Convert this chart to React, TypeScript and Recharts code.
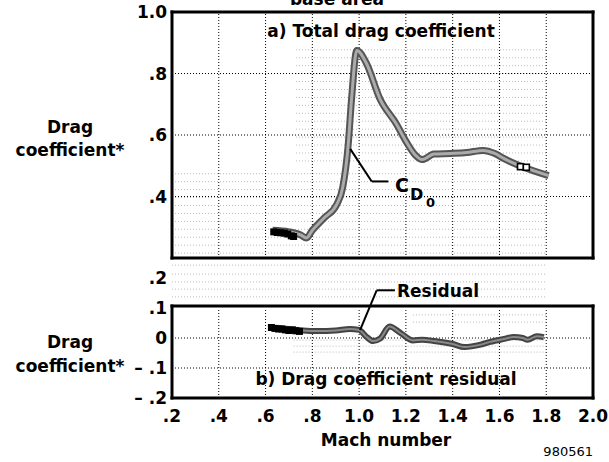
import { ComposedChart, Line, Scatter, XAxis, YAxis, ReferenceLine } from 'recharts'

// Mach number / total drag coefficient (faired band)
const cd0Mach = [0.63, 0.70, 0.75, 0.775, 0.80, 0.85, 0.905, 0.93, 0.953, 0.968, 0.99, 1.03, 1.09, 1.16, 1.20, 1.24, 1.27, 1.32, 1.39, 1.46, 1.53, 1.58, 1.62, 1.70, 1.81]
const cd0Values = [0.29, 0.285, 0.275, 0.265, 0.29, 0.33, 0.375, 0.43, 0.565, 0.72, 0.875, 0.835, 0.716, 0.635, 0.58, 0.535, 0.52, 0.538, 0.54, 0.543, 0.55, 0.54, 0.523, 0.496, 0.468]

// flight points, subsonic cluster and supersonic pair
const flightMach = [0.635, 0.65, 0.665, 0.68, 0.695, 0.71, 0.72]
const flightCd = [0.285, 0.283, 0.282, 0.281, 0.278, 0.272, 0.27]
const openMach = [1.69, 1.715]
const openCd = [0.497, 0.495]

// residual
const residualMach = [0.62, 0.70, 0.76, 0.82, 0.90, 0.96, 1.00, 1.03, 1.06, 1.09, 1.13, 1.18, 1.23, 1.27, 1.32, 1.40, 1.45, 1.52, 1.56, 1.62, 1.66, 1.70, 1.72, 1.76, 1.79]
const residualValues = [0.035, 0.03, 0.025, 0.023, 0.025, 0.03, 0.027, 0.005, -0.01, -0.002, 0.038, 0.015, -0.008, -0.006, -0.01, -0.02, -0.03, -0.022, -0.013, -0.003, 0.003, 0.0, -0.006, 0.006, 0.003]
const residualFlightMach = [0.625, 0.64, 0.655, 0.67, 0.685, 0.70, 0.715, 0.73, 0.745]
const residualFlightValues = [0.035, 0.032, 0.03, 0.03, 0.027, 0.025, 0.027, 0.024, 0.022]

const machTicks = [0.2, 0.4, 0.6, 0.8, 1.0, 1.2, 1.4, 1.6, 1.8, 2.0]
const machGrid = [0.4, 0.6, 0.8, 1.0, 1.2, 1.4, 1.6, 1.8]
const cdTicks = [0.4, 0.6, 0.8, 1.0]
const cdGrid = [0.4, 0.6, 0.8]
const residualTicks = [-0.2, -0.1, 0, 0.1, 0.2]
const residualGrid = [-0.1, 0]

const FONT = 'DejaVu Sans'
const tickStyle = { fill: '#000', fontSize: 17, fontWeight: 700, fontFamily: FONT }

const toPoints = (xs: number[], ys: number[]) => xs.map((mach, i) => ({ mach, value: ys[i] }))

// light halftone rulings behind the data
const rulings = (from: number, to: number, step: number) => {
  const out: number[] = []
  for (let v = from; v >= to; v -= step) out.push(Number(v.toFixed(4)))
  return out
}
const upperRulings = rulings(0.877, 0.5, 0.0258)
const lowerRulings = rulings(0.474, 0.215, 0.0258)
const gapRulings = [0.243, 0.213, 0.187, 0.163, 0.137]
const residualRulings = [0.077, 0.053, -0.007, -0.027, -0.047]

const fmtMach = (v: number) => (v >= 1 ? v.toFixed(1) : '.' + Math.round(v * 10))
const fmtCd = (v: number) => (v >= 1 ? v.toFixed(1) : '.' + Math.round(v * 10))
const fmtResidual = (v: number) => {
  if (v === 0) return '0'
  const s = '.' + Math.round(Math.abs(v) * 10)
  return v < 0 ? '\u2013 ' + s : s
}

const FilledSquare = (props: any) => <rect x={props.cx - 3.5} y={props.cy - 3.5} width={7} height={7} fill="#000" />
const OpenSquare = (props: any) => (
  <rect x={props.cx - 3} y={props.cy - 3} width={6} height={6} fill="#fff" stroke="#000" strokeWidth={1.6} />
)

const dotted = { stroke: '#000', strokeDasharray: '1 2', strokeWidth: 1 }
const faint = { stroke: '#bbb', strokeDasharray: '1 2', strokeWidth: 1 }
// heavy panel border, drawn with the axis lines
const border = { stroke: '#000', strokeWidth: 3, strokeLinecap: 'square' as const }

export default function App() {
  const cd0 = toPoints(cd0Mach, cd0Values)
  const residual = toPoints(residualMach, residualValues)

  return (
    <div style={{ position: 'absolute', left: 0, top: 0, width: 609, height: 462, background: '#fff' }}>
      {/* a) total drag coefficient */}
      <div style={{ position: 'absolute', left: 0, top: 0 }}>
        <ComposedChart width={609} height={270} margin={{ top: 11, right: 15, bottom: 11, left: 112 }}>
          <XAxis type="number" dataKey="mach" domain={[0.2, 2.0]} tick={false} tickLine={false} axisLine={border} height={1} allowDataOverflow />
          <XAxis xAxisId="top" orientation="top" type="number" dataKey="mach" domain={[0.2, 2.0]} tick={false} tickLine={false} axisLine={border} height={1} allowDataOverflow />
          <YAxis
            type="number"
            dataKey="value"
            domain={[0.2, 1.0]}
            ticks={cdTicks}
            tickFormatter={fmtCd}
            tick={tickStyle}
            tickLine={false}
            axisLine={border}
            tickSize={0}
            tickMargin={5}
            width={60}
            allowDataOverflow
          />
          <YAxis yAxisId="right" orientation="right" type="number" domain={[0.2, 1.0]} tick={false} tickLine={false} axisLine={border} width={1} allowDataOverflow />
          {upperRulings.map((y) => (
            <ReferenceLine key={'u' + y} segment={[{ x: 0.73, y }, { x: 1.8, y }]} {...faint} />
          ))}
          {lowerRulings.map((y) => (
            <ReferenceLine key={'l' + y} segment={[{ x: 0.2, y }, { x: 1.8, y }]} {...faint} />
          ))}
          {machGrid.map((x) => (
            <ReferenceLine key={'vx' + x} x={x} {...dotted} />
          ))}
          {cdGrid.map((y) => (
            <ReferenceLine key={'hy' + y} y={y} {...dotted} />
          ))}
          <Line data={cd0} dataKey="value" type="monotone" stroke="#555" strokeWidth={7} dot={false} isAnimationActive={false} />
          <Line data={cd0} dataKey="value" type="monotone" stroke="#ababab" strokeWidth={3} dot={false} isAnimationActive={false} />
          <Scatter data={toPoints(flightMach, flightCd)} dataKey="value" shape={FilledSquare} isAnimationActive={false} />
          <Scatter data={toPoints(openMach, openCd)} dataKey="value" shape={OpenSquare} isAnimationActive={false} />
          {/* leader to the CD0 label */}
          <ReferenceLine segment={[{ x: 0.962, y: 0.555 }, { x: 1.054, y: 0.449 }]} stroke="#000" strokeWidth={2} />
          <ReferenceLine segment={[{ x: 1.054, y: 0.449 }, { x: 1.125, y: 0.449 }]} stroke="#000" strokeWidth={2} />
        </ComposedChart>
      </div>

      {/* b) residual, scale reaches up to the .2 tick above its border */}
      <div style={{ position: 'absolute', left: 0, top: 250 }}>
        <ComposedChart width={609} height={212} margin={{ top: 13, right: 16, bottom: 24, left: 112 }}>
          <XAxis
            type="number"
            dataKey="mach"
            domain={[0.2, 2.0]}
            ticks={machTicks}
            tickFormatter={fmtMach}
            tick={tickStyle}
            tickLine={false}
            axisLine={false}
            tickSize={0}
            tickMargin={12}
            height={40}
            interval={0}
            allowDataOverflow
          />
          <YAxis
            type="number"
            dataKey="value"
            domain={[-0.2, 0.25]}
            ticks={residualTicks}
            tickFormatter={fmtResidual}
            tick={tickStyle}
            tickLine={false}
            axisLine={false}
            tickSize={0}
            tickMargin={5}
            width={60}
            interval={0}
            allowDataOverflow
          />
          {gapRulings.map((y) => (
            <ReferenceLine key={'g' + y} segment={[{ x: 0.2, y }, { x: 1.8, y }]} {...faint} />
          ))}
          {residualRulings.map((y) => (
            <ReferenceLine key={'r' + y} segment={[{ x: y > 0 ? 1.23 : 0.72, y }, { x: 1.8, y }]} {...faint} />
          ))}
          {machGrid.map((x) => (
            <ReferenceLine key={'bx' + x} segment={[{ x, y: -0.2 }, { x, y: 0.1 }]} {...dotted} />
          ))}
          {residualGrid.map((y) => (
            <ReferenceLine key={'by' + y} y={y} {...dotted} />
          ))}
          <Line data={residual} dataKey="value" type="monotone" stroke="#444" strokeWidth={6} dot={false} isAnimationActive={false} />
          <Line data={residual} dataKey="value" type="monotone" stroke="#8a8a8a" strokeWidth={2} dot={false} isAnimationActive={false} />
          <Scatter data={toPoints(residualFlightMach, residualFlightValues)} dataKey="value" shape={FilledSquare} isAnimationActive={false} />
          {/* leader to the Residual label */}
          <ReferenceLine segment={[{ x: 1.004, y: 0.026 }, { x: 1.075, y: 0.159 }]} stroke="#000" strokeWidth={2} />
          <ReferenceLine segment={[{ x: 1.075, y: 0.159 }, { x: 1.153, y: 0.159 }]} stroke="#000" strokeWidth={2} />
        </ComposedChart>
      </div>

      {/* border of the residual panel, -0.2 to 0.1 */}
      <div style={{ position: 'absolute', left: 0, top: 300, pointerEvents: 'none' }}>
        <ComposedChart width={609} height={104} margin={{ top: 5, right: 15, bottom: 5, left: 171 }} data={residual}>
          <XAxis type="number" dataKey="mach" domain={[0.2, 2.0]} tick={false} tickLine={false} axisLine={border} height={1} allowDataOverflow />
          <XAxis xAxisId="top" orientation="top" type="number" dataKey="mach" domain={[0.2, 2.0]} tick={false} tickLine={false} axisLine={border} height={1} allowDataOverflow />
          <YAxis type="number" dataKey="value" domain={[-0.2, 0.1]} tick={false} tickLine={false} axisLine={border} width={1} allowDataOverflow />
          <YAxis yAxisId="right" orientation="right" type="number" domain={[-0.2, 0.1]} tick={false} tickLine={false} axisLine={border} width={1} allowDataOverflow />
        </ComposedChart>
      </div>

      <svg width={609} height={462} style={{ position: 'absolute', left: 0, top: 0, pointerEvents: 'none' }} fontFamily={FONT} fontWeight={700}>
        <text x={337} y={5} fontSize={17} textAnchor="middle">base area</text>
        <text x={381} y={37} fontSize={17} textAnchor="middle">a) Total drag coefficient</text>
        <text x={386} y={385} fontSize={17} textAnchor="middle">b) Drag coefficient residual</text>
        <text x={70} y={133} fontSize={17} textAnchor="middle">Drag</text>
        <text x={70} y={156} fontSize={17} textAnchor="middle">coefficient*</text>
        <text x={70} y={348} fontSize={17} textAnchor="middle">Drag</text>
        <text x={70} y={372} fontSize={17} textAnchor="middle">coefficient*</text>
        <text x={386} y={446} fontSize={17} textAnchor="middle">Mach number</text>
        <text x={397} y={297} fontSize={17}>Residual</text>
        <text x={395} y={192} fontSize={19}>C</text>
        <text x={410} y={200} fontSize={16}>D</text>
        <text x={426} y={207} fontSize={13}>0</text>
        <text x={593} y={456} fontSize={13} fontWeight={400} textAnchor="end">980561</text>
      </svg>
    </div>
  )
}
